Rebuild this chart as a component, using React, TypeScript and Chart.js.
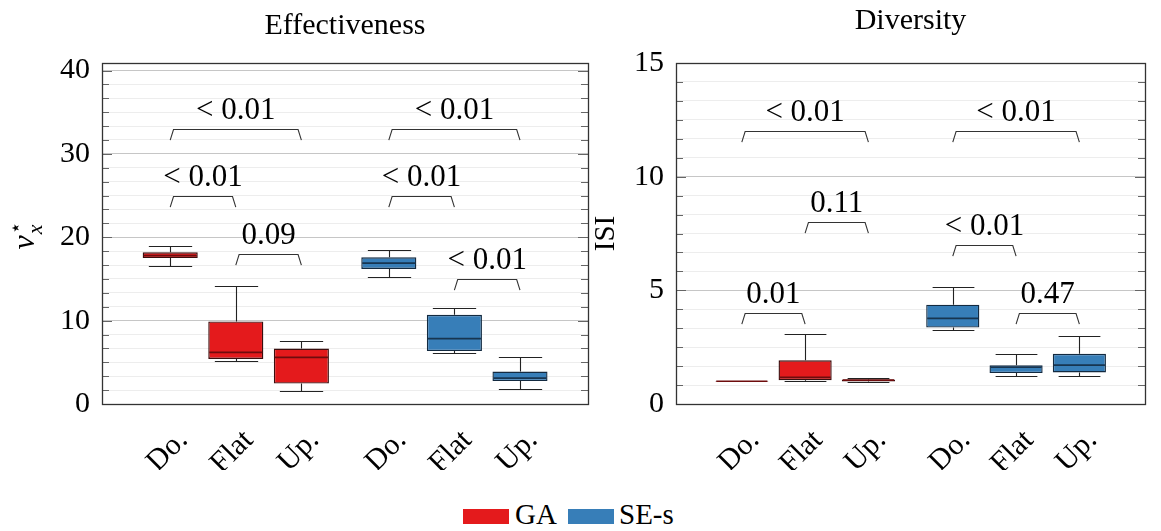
import React, { useEffect, useRef } from 'react';
import { Chart, registerables } from 'chart.js';

Chart.register(...registerables);

// ---------------- data ----------------
const categories = ['Do.', 'Flat', 'Up.'];
const gaPositions = [1, 2, 3];
const sePositions = [4.333, 5.333, 6.333];
const seriesNames = ['GA', 'SE-s'];

// each entry: [min, q1, median, q3, max]
const effGA = [
  [16.5, 17.5, 17.8, 18.2, 18.9],
  [5.2, 5.4, 6.2, 9.9, 14.2],
  [1.6, 2.45, 5.6, 6.65, 7.5],
];
const effSE = [
  [15.2, 16.2, 16.9, 17.6, 18.45],
  [6.1, 6.35, 7.85, 10.7, 11.5],
  [1.8, 2.75, 3.1, 3.9, 5.65],
];
const divGA = [
  [0.99, 0.99, 1.0, 1.01, 1.01],
  [1.01, 1.05, 1.17, 1.92, 3.08],
  [0.96, 0.99, 1.05, 1.08, 1.15],
];
const divSE = [
  [3.26, 3.36, 3.77, 4.37, 5.15],
  [1.21, 1.36, 1.62, 1.71, 2.21],
  [1.24, 1.39, 1.71, 2.21, 3.01],
];

const effYMajor = [0, 10, 20, 30, 40];
const divYMajor = [0, 5, 10, 15];

const effBracketFrom = [1, 1, 2, 4.333, 4.333, 5.333];
const effBracketTo = [3, 2, 3, 6.333, 5.333, 6.333];
const effBracketTop = [33, 25, 18, 33, 25, 15];
const effBracketLabel = ['< 0.01', '< 0.01', '0.09', '< 0.01', '< 0.01', '< 0.01'];

const divBracketFrom = [1, 1, 2, 4.333, 4.333, 5.333];
const divBracketTo = [3, 2, 3, 6.333, 5.333, 6.333];
const divBracketTop = [12, 4, 8, 12, 7, 4];
const divBracketLabel = ['< 0.01', '0.01', '0.11', '< 0.01', '< 0.01', '0.47'];

// ---------------- style ----------------
const FONT = '"Liberation Serif", "Times New Roman", serif';
const RED = '#e41a1c';
const BLUE = '#377eb8';
const RED_EDGE = '#3a0e0e';
const BLUE_EDGE = '#132a40';
const RED_MED = '#6e0c0d';
const BLUE_MED = '#173550';
const BOX_WIDTH = 0.84;
const CAP_WIDTH = 0.66;
const MINOR_DIV = 6;

function buildYTicks(major: number[]) {
  const out: { value: number }[] = [];
  for (let i = 0; i < major.length; i++) {
    out.push({ value: major[i] });
    if (i < major.length - 1) {
      for (let k = 1; k < MINOR_DIV; k++) {
        out.push({ value: major[i] + ((major[i + 1] - major[i]) * k) / MINOR_DIV });
      }
    }
  }
  return out;
}

function isMajor(v: number, major: number[]) {
  return major.some((m) => Math.abs(m - v) < 1e-6);
}

type PanelCfg = {
  key: string;
  title: string;
  titlePad: { top: number; bottom: number };
  yMax: number;
  yMajor: number[];
  ga: number[][];
  se: number[][];
  bFrom: number[];
  bTo: number[];
  bTop: number[];
  bLabel: string[];
  yAxisWidth: number;
  padRight: number;
  xAxisHeight: number;
  yTitle?: string;
  mathTitle?: boolean;
};

function makePlugin(cfg: PanelCfg) {
  const seriesList = [
    { pos: gaPositions, data: cfg.ga, med: RED_MED },
    { pos: sePositions, data: cfg.se, med: BLUE_MED },
  ];
  return {
    id: 'boxextras_' + cfg.key,
    beforeDatasetsDraw(chart: any) {
      const { ctx, chartArea: a, scales } = chart;
      const x = scales.x;
      const y = scales.y;
      ctx.save();
      // inner tick marks
      ctx.strokeStyle = '#666';
      ctx.lineWidth = 1;
      y.ticks.forEach((t: any) => {
        const py = Math.round(y.getPixelForValue(t.value)) + 0.5;
        const len = isMajor(t.value, cfg.yMajor) ? 10 : 7;
        ctx.beginPath();
        ctx.moveTo(a.left, py);
        ctx.lineTo(a.left + len, py);
        ctx.moveTo(a.right - len, py);
        ctx.lineTo(a.right, py);
        ctx.stroke();
      });
      // whiskers
      ctx.strokeStyle = '#222';
      ctx.lineWidth = 1.1;
      seriesList.forEach((s) => {
        s.data.forEach((d, i) => {
          const cx = Math.round(x.getPixelForValue(s.pos[i])) + 0.5;
          const half = x.getPixelForValue(s.pos[i] + CAP_WIDTH / 2) - x.getPixelForValue(s.pos[i]);
          const pMin = Math.round(y.getPixelForValue(d[0])) + 0.5;
          const pQ1 = y.getPixelForValue(d[1]);
          const pQ3 = y.getPixelForValue(d[3]);
          const pMax = Math.round(y.getPixelForValue(d[4])) + 0.5;
          ctx.beginPath();
          ctx.moveTo(cx, pMax);
          ctx.lineTo(cx, pQ3);
          ctx.moveTo(cx, pQ1);
          ctx.lineTo(cx, pMin);
          ctx.moveTo(cx - half, pMax);
          ctx.lineTo(cx + half, pMax);
          ctx.moveTo(cx - half, pMin);
          ctx.lineTo(cx + half, pMin);
          ctx.stroke();
        });
      });
      ctx.restore();
    },
    afterDatasetsDraw(chart: any) {
      const { ctx, chartArea: a, scales } = chart;
      const x = scales.x;
      const y = scales.y;
      ctx.save();
      // medians
      ctx.lineWidth = 1.7;
      seriesList.forEach((s) => {
        s.data.forEach((d, i) => {
          const half = x.getPixelForValue(s.pos[i] + BOX_WIDTH / 2) - x.getPixelForValue(s.pos[i]);
          const cx = x.getPixelForValue(s.pos[i]);
          const pm = y.getPixelForValue(d[2]);
          ctx.strokeStyle = s.med;
          ctx.beginPath();
          ctx.moveTo(cx - half + 1, pm);
          ctx.lineTo(cx + half - 1, pm);
          ctx.stroke();
        });
      });
      // brackets with p-values
      ctx.strokeStyle = '#333';
      ctx.lineWidth = 1.1;
      ctx.fillStyle = '#000';
      ctx.font = '31px ' + FONT;
      ctx.textAlign = 'center';
      ctx.textBaseline = 'alphabetic';
      for (let i = 0; i < cfg.bFrom.length; i++) {
        const x1 = x.getPixelForValue(cfg.bFrom[i]);
        const x2 = x.getPixelForValue(cfg.bTo[i]);
        const yt = Math.round(y.getPixelForValue(cfg.bTop[i])) + 0.5;
        ctx.beginPath();
        ctx.moveTo(x1, yt + 10.7);
        ctx.lineTo(x1 + 3.3, yt);
        ctx.lineTo(x2 - 3.3, yt);
        ctx.lineTo(x2, yt + 10.7);
        ctx.stroke();
        ctx.fillText(cfg.bLabel[i], (x1 + x2) / 2, yt - 11);
      }
      // frame
      ctx.strokeStyle = '#333';
      ctx.lineWidth = 1.3;
      ctx.strokeRect(Math.round(a.left) + 0.5, Math.round(a.top) + 0.5, Math.round(a.width), Math.round(a.height));
      ctx.restore();
    },
    afterDraw(chart: any) {
      if (!cfg.mathTitle) return;
      const { ctx, chartArea: a } = chart;
      const cy = (a.top + a.bottom) / 2;
      ctx.save();
      ctx.translate(34, cy + 16);
      ctx.rotate(-Math.PI / 2);
      ctx.fillStyle = '#000';
      ctx.textBaseline = 'alphabetic';
      ctx.textAlign = 'left';
      ctx.font = 'italic 32px ' + FONT;
      ctx.fillText('v', 0, 0);
      const w = ctx.measureText('v').width;
      ctx.font = '20px "DejaVu Sans", sans-serif';
      ctx.fillText('⋆', w + 1, -12);
      ctx.font = 'italic 22px ' + FONT;
      ctx.fillText('x', w + 1, 8);
      ctx.restore();
    },
  };
}

function makeChart(canvas: HTMLCanvasElement, cfg: PanelCfg) {
  const mkData = (pos: number[], d: number[][]) => pos.map((p, i) => ({ x: p, y: [d[i][1], d[i][3]] }));
  return new Chart(canvas, {
    type: 'bar',
    data: {
      datasets: [
        {
          label: seriesNames[0],
          data: mkData(gaPositions, cfg.ga) as any,
          backgroundColor: RED,
          borderColor: RED_EDGE,
          borderWidth: 1.4,
          borderSkipped: false,
          grouped: false,
          categoryPercentage: 1,
          barPercentage: BOX_WIDTH,
        } as any,
        {
          label: seriesNames[1],
          data: mkData(sePositions, cfg.se) as any,
          backgroundColor: BLUE,
          borderColor: BLUE_EDGE,
          borderWidth: 1.4,
          borderSkipped: false,
          grouped: false,
          categoryPercentage: 1,
          barPercentage: BOX_WIDTH,
        } as any,
      ],
    },
    options: {
      responsive: false,
      animation: false,
      events: [],
      layout: { padding: { left: 0, right: cfg.padRight, top: 0, bottom: 0 } },
      plugins: {
        legend: { display: false },
        tooltip: { enabled: false },
        title: {
          display: true,
          text: cfg.title,
          fullSize: false,
          color: '#000',
          font: { family: FONT, size: 30, weight: 'normal', lineHeight: 1.2 },
          padding: cfg.titlePad,
        },
      },
      scales: {
        x: {
          type: 'linear',
          min: -0.04,
          max: 7.37,
          offset: false,
          grid: { display: false, drawTicks: false, offset: false },
          border: { display: false },
          afterBuildTicks: (scale: any) => {
            scale.ticks = [...gaPositions, ...sePositions].map((v) => ({ value: v }));
          },
          afterFit: (scale: any) => {
            scale.height = cfg.xAxisHeight;
          },
          ticks: {
            autoSkip: false,
            minRotation: 45,
            maxRotation: 45,
            padding: 19,
            labelOffset: 13,
            color: '#000',
            font: { family: FONT, size: 30 },
            callback: (_v: any, i: number) => categories[i % categories.length],
          },
        },
        y: {
          type: 'linear',
          min: 0,
          max: cfg.yMax,
          grid: {
            drawTicks: false,
            color: (c: any) => (c.tick && isMajor(c.tick.value, cfg.yMajor) ? '#c6c6c6' : '#ededed'),
            lineWidth: 1,
          },
          border: { display: false },
          afterBuildTicks: (scale: any) => {
            scale.ticks = buildYTicks(cfg.yMajor);
          },
          afterFit: (scale: any) => {
            scale.width = cfg.yAxisWidth;
          },
          title: cfg.yTitle
            ? {
                display: true,
                text: cfg.yTitle,
                color: '#000',
                font: { family: FONT, size: 29, lineHeight: 1.2 },
                padding: { top: 9, bottom: 0 },
              }
            : { display: false },
          ticks: {
            autoSkip: false,
            padding: 12,
            color: '#000',
            font: { family: FONT, size: 30 },
            callback: (v: any) => (isMajor(Number(v), cfg.yMajor) ? String(Math.round(Number(v))) : ''),
          },
        },
      },
    } as any,
    plugins: [makePlugin(cfg) as any],
  });
}

const effCfg: PanelCfg = {
  key: 'eff',
  title: 'Effectiveness',
  titlePad: { top: 8, bottom: 19 },
  yMax: 40.9,
  yMajor: effYMajor,
  ga: effGA,
  se: effSE,
  bFrom: effBracketFrom,
  bTo: effBracketTo,
  bTop: effBracketTop,
  bLabel: effBracketLabel,
  yAxisWidth: 102,
  padRight: 12,
  xAxisHeight: 66,
  mathTitle: true,
};

const divCfg: PanelCfg = {
  key: 'div',
  title: 'Diversity',
  titlePad: { top: 3, bottom: 24 },
  yMax: 15,
  yMajor: divYMajor,
  ga: divGA,
  se: divSE,
  bFrom: divBracketFrom,
  bTo: divBracketTo,
  bTop: divBracketTop,
  bLabel: divBracketLabel,
  yAxisWidth: 96,
  padRight: 16,
  xAxisHeight: 66,
  yTitle: 'ISI',
};

export default function App() {
  const leftRef = useRef<HTMLCanvasElement>(null);
  const rightRef = useRef<HTMLCanvasElement>(null);

  useEffect(() => {
    const c1 = makeChart(leftRef.current!, effCfg);
    const c2 = makeChart(rightRef.current!, divCfg);
    return () => {
      c1.destroy();
      c2.destroy();
    };
  }, []);

  const legendText: React.CSSProperties = {
    position: 'absolute',
    top: 500,
    fontFamily: FONT,
    fontSize: 29,
    lineHeight: '29px',
    color: '#000',
    whiteSpace: 'nowrap',
  };

  return (
    <div
      style={{
        position: 'absolute',
        left: 0,
        top: 0,
        width: 1161,
        height: 531,
        background: '#fff',
        overflow: 'hidden',
      }}
    >
      <canvas ref={leftRef} width={600} height={470} style={{ position: 'absolute', left: 0, top: 0 }} />
      <canvas ref={rightRef} width={581} height={470} style={{ position: 'absolute', left: 580, top: 0 }} />
      <div style={{ position: 'absolute', left: 463, top: 509, width: 46, height: 15, background: RED }} />
      <div style={{ ...legendText, left: 515 }}>{seriesNames[0]}</div>
      <div style={{ position: 'absolute', left: 568, top: 509, width: 46, height: 15, background: BLUE }} />
      <div style={{ ...legendText, left: 619 }}>{seriesNames[1]}</div>
    </div>
  );
}
